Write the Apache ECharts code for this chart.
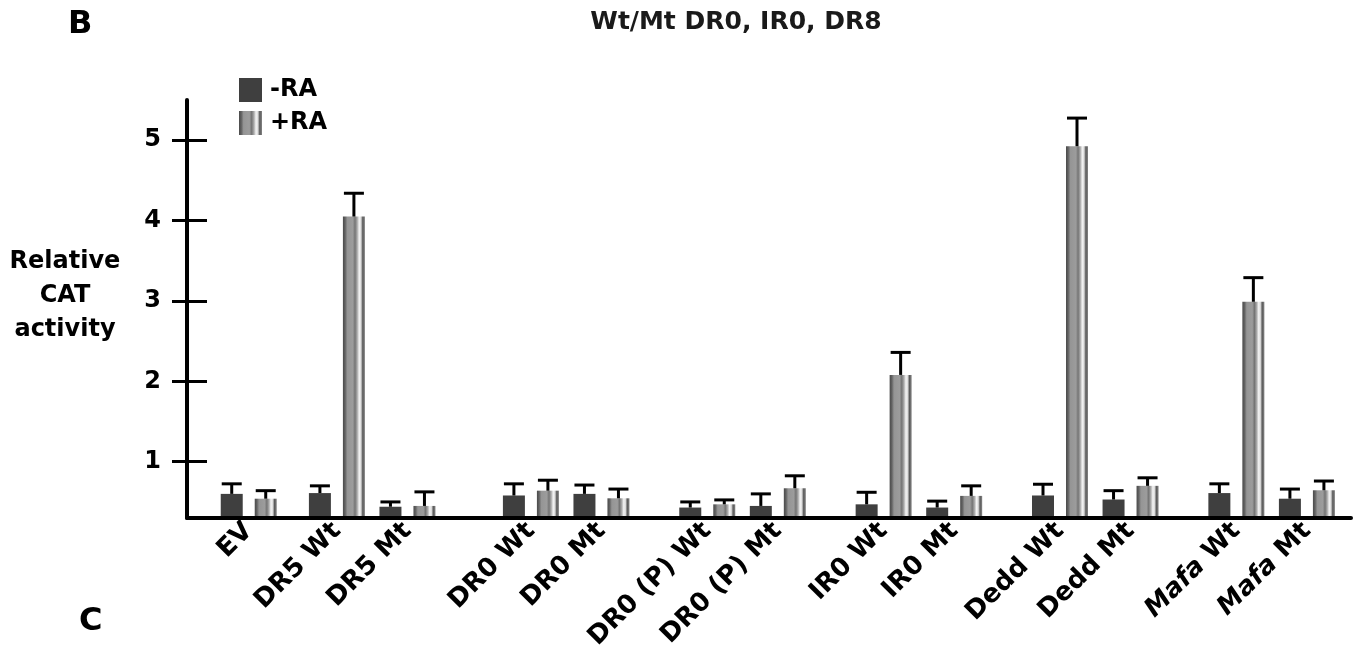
<!DOCTYPE html>
<html>
<head>
<meta charset="utf-8">
<script src="https://cdn.jsdelivr.net/npm/echarts@6/dist/echarts.min.js"></script>
<style>
html,body{margin:0;padding:0;background:#fff;}
#chart{width:1359px;height:657px;}
</style>
</head>
<body>
<div id="chart"></div>
<script>
// ---- data ----
const labels = ['EV','DR5 Wt','DR5 Mt','DR0 Wt','DR0 Mt','DR0 (P) Wt','DR0 (P) Mt','IR0 Wt','IR0 Mt','Dedd Wt','Dedd Mt','Mafa Wt','Mafa Mt'];
const minusRA   = [0.60, 0.61, 0.44, 0.58, 0.60, 0.43, 0.45, 0.47, 0.43, 0.58, 0.53, 0.61, 0.54];
const minusRAsd = [0.125,0.09, 0.06, 0.145,0.11, 0.07, 0.15, 0.15, 0.08, 0.14, 0.11, 0.115,0.12];
const plusRA    = [0.54, 4.05, 0.45, 0.64, 0.545,0.47, 0.67, 2.08, 0.575,4.925,0.70, 2.99, 0.645];
const plusRAsd  = [0.10, 0.29, 0.175,0.13, 0.115,0.055,0.155,0.28, 0.125,0.35, 0.10, 0.30, 0.115];
const yTicks = [1, 2, 3, 4, 5];
const seriesNames = ['-RA', '+RA'];

// ---- layout (spacing of the category slots) ----
const LEAD = 3, TRAIL = 2;
const slotSteps = [5,4,7,4,6,4,6,4,6,4,6,4];
const FONT = 'DejaVu Sans';
const BAR_W = 22, BAR_GAP = 12;

const slotIndex = [LEAD];
slotSteps.forEach(s => slotIndex.push(slotIndex[slotIndex.length - 1] + s));
const nSlots = slotIndex[slotIndex.length - 1] + 1 + TRAIL;
const cats = [];
for (let i = 0; i < nSlots; i++) cats.push('_' + i);
labels.forEach((l, k) => { cats[slotIndex[k]] = l; });

function padded(arr) {
  const out = new Array(nSlots).fill(null);
  arr.forEach((v, k) => { out[slotIndex[k]] = v; });
  return out;
}
function errData(vals, sds) {
  return vals.map((v, k) => [slotIndex[k], v, v + sds[k]]);
}
function errRender(offset) {
  return function (params, api) {
    const x = api.value(0), v = api.value(1), t = api.value(2);
    const p0 = api.coord([x, v]);
    const p1 = api.coord([x, t]);
    const cx = p0[0] + offset;
    return {
      type: 'group',
      children: [
        {type: 'line', shape: {x1: cx, y1: p0[1], x2: cx, y2: p1[1]}, style: {stroke: '#000', lineWidth: 3}},
        {type: 'line', shape: {x1: cx - 10, y1: p1[1], x2: cx + 10, y2: p1[1]}, style: {stroke: '#000', lineWidth: 3}}
      ]
    };
  };
}

const stripe = {
  type: 'linear', x: 0, y: 0, x2: 1, y2: 0,
  colorStops: [
    {offset: 0, color: '#4a4a4a'},
    {offset: 0.1, color: '#626262'},
    {offset: 0.2, color: '#959595'},
    {offset: 0.45, color: '#9c9c9c'},
    {offset: 0.55, color: '#747474'},
    {offset: 0.65, color: '#aaaaaa'},
    {offset: 0.74, color: '#f4f4f4'},
    {offset: 0.82, color: '#dcdcdc'},
    {offset: 0.9, color: '#5a5a5a'},
    {offset: 1, color: '#858585'}
  ]
};

const chart = echarts.init(document.getElementById('chart'), null, {renderer: 'canvas'});
const half = (BAR_W + BAR_GAP) / 2;

chart.setOption({
  animation: false,
  backgroundColor: '#fff',
  textStyle: {fontFamily: FONT},
  title: {
    text: 'Wt/Mt DR0, IR0, DR8',
    left: 731, top: 5, textAlign: 'center',
    textStyle: {fontFamily: FONT, fontWeight: 'bold', fontSize: 25, color: '#1a1a1a'}
  },
  legend: {
    data: seriesNames,
    orient: 'vertical',
    left: 234, top: 73,
    itemWidth: 23, itemHeight: 24, itemGap: 9,
    icon: 'rect',
    textStyle: {fontFamily: FONT, fontWeight: 'bold', fontSize: 24, color: '#000', padding: [0, 0, 0, 3]}
  },
  grid: {left: 187, right: 8, top: 100, bottom: 139, containLabel: false},
  xAxis: {
    type: 'category',
    data: cats,
    z: 5,
    axisLine: {lineStyle: {color: '#000', width: 4}},
    axisTick: {show: false},
    axisLabel: {
      interval: 0, rotate: 45, margin: 9,
      fontFamily: FONT, fontWeight: 'bold', fontSize: 26, color: '#000',
      formatter: v => v.charAt(0) === '_' ? '' : (v.indexOf('Mafa') === 0 ? '{i|Mafa}' + v.slice(4) : v),
      rich: {i: {fontStyle: 'italic', fontWeight: 'bold', fontSize: 26, fontFamily: FONT, color: '#000'}}
    }
  },
  yAxis: [{
    type: 'value', min: 0.3, max: 5.5, startValue: 0.3,
    position: 'left', z: 5,
    axisLine: {show: true, lineStyle: {color: '#000', width: 4}},
    axisTick: {show: true, inside: false, length: 15, customValues: yTicks, lineStyle: {color: '#000', width: 3}},
    axisLabel: {customValues: yTicks, margin: 26, fontFamily: FONT, fontWeight: 'bold', fontSize: 24, color: '#000'},
    splitLine: {show: false}
  }, {
    type: 'value', min: 0.3, max: 5.5,
    position: 'left', offset: 0, z: 5,
    axisLine: {show: false},
    axisTick: {show: true, inside: true, length: 20, customValues: yTicks, lineStyle: {color: '#000', width: 3}},
    axisLabel: {show: false},
    splitLine: {show: false}
  }],
  series: [
    {
      name: seriesNames[0], type: 'bar', data: padded(minusRA),
      barWidth: BAR_W, barGap: (BAR_GAP / BAR_W * 100) + '%',
      itemStyle: {color: '#3f3f3f'}, clip: true
    },
    {
      name: seriesNames[1], type: 'bar', data: padded(plusRA),
      barWidth: BAR_W, barGap: (BAR_GAP / BAR_W * 100) + '%',
      itemStyle: {color: stripe}, clip: true
    },
    {
      type: 'custom', name: 'err-', data: errData(minusRA, minusRAsd),
      renderItem: errRender(-half), z: 4, silent: true,
      encode: {x: 0, y: [1, 2]}
    },
    {
      type: 'custom', name: 'err+', data: errData(plusRA, plusRAsd),
      renderItem: errRender(half), z: 4, silent: true,
      encode: {x: 0, y: [1, 2]}
    }
  ],
  graphic: [
    {type: 'text', left: 68, top: 9, style: {text: 'B', font: 'bold 32px "DejaVu Sans"', fill: '#000'}},
    {type: 'text', left: 79, top: 606, style: {text: 'C', font: 'bold 32px "DejaVu Sans"', fill: '#000'}},
    {type: 'text', x: 65, y: 296, style: {
      text: 'Relative\nCAT\nactivity', font: 'bold 24px "DejaVu Sans"', fill: '#000',
      align: 'center', verticalAlign: 'middle', lineHeight: 34
    }}
  ]
});
</script>
</body>
</html>
